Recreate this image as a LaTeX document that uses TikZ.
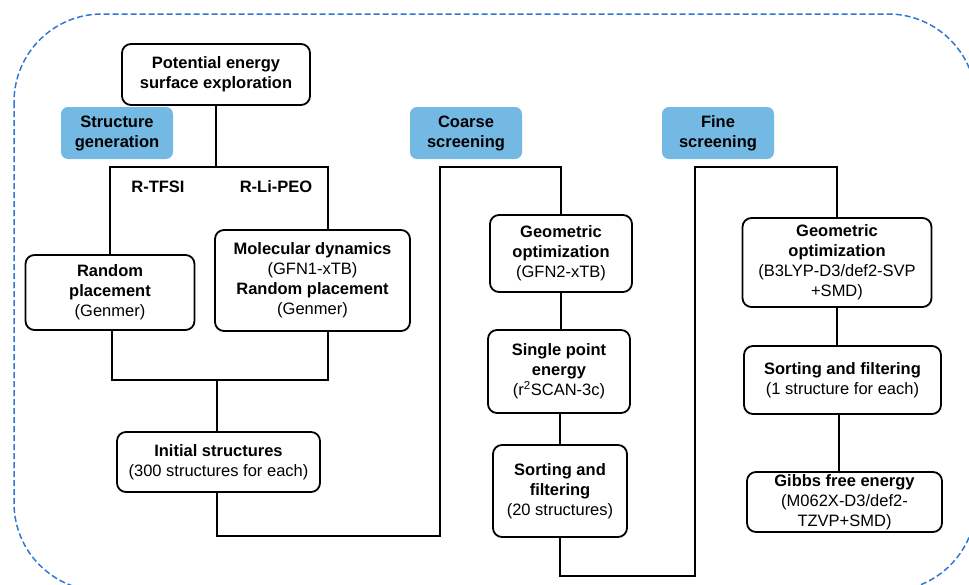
\documentclass[tikz,border=0pt]{standalone}
\usepackage{fontspec}
\setmainfont{Liberation Sans}
\definecolor{stageblue}{HTML}{74B9E3}
\definecolor{frameblue}{HTML}{2F78D2}
\newcommand{\hd}[1]{\textbf{#1}}

\begin{document}
\begin{tikzpicture}[x=1pt,y=-1pt,
  font=\fontsize{16.5}{20}\selectfont,
  stepbox/.style={draw=black,line width=1.8pt,rounded corners=9pt,fill=white,align=center,inner sep=0pt},
  stagebox/.style={fill=stageblue,rounded corners=7pt,align=center,font=\bfseries\fontsize{16.5}{20}\selectfont,minimum width=112pt,minimum height=52pt},
  link/.style={draw=black,line width=1.7pt}]

\useasboundingbox (0,0) rectangle (969,584);
\begin{scope}
\clip (0,0) rectangle (969,584);
\draw[frameblue,line width=1.5pt,rounded corners=88pt,dash pattern=on 6pt off 3pt] (14,14) rectangle (976,591);
\end{scope}

% stage labels
\node (sgen) [stagebox] at (117,133) {Structure\\generation};
\node (coarse) [stagebox] at (466,133) {Coarse\\screening};
\node (fine) [stagebox] at (718,133) {Fine\\screening};

% structure generation
\node (pes) [stepbox,minimum width=188pt,minimum height=61pt] at (216,74.5) {\hd{Potential energy}\\\hd{surface exploration}};
\node (rand) [stepbox,minimum width=169pt,minimum height=75pt] at (110,292.5) {\hd{Random}\\\hd{placement}\\(Genmer)};
\node (md) [stepbox,minimum width=195pt,minimum height=101pt] at (312.5,280.5) {\hd{Molecular dynamics}\\(GFN1-xTB)\\\hd{Random placement}\\(Genmer)};
\node (init) [stepbox,minimum width=203pt,minimum height=60pt] at (218.5,462) {\hd{Initial structures}\\(300 structures for each)};

\node (tfsi) at (158,187) {\hd{R-TFSI}};
\node (peo) at (276,187) {\hd{R-Li-PEO}};

% coarse screening
\node (geo1) [stepbox,minimum width=142pt,minimum height=77pt] at (561,253.5) {\hd{Geometric}\\\hd{optimization}\\(GFN2-xTB)};
\node (sp) [stepbox,minimum width=142pt,minimum height=83pt] at (559,371.5) {\hd{Single point}\\\hd{energy}\\(r\textsuperscript{2}SCAN-3c)};
\node (sort1) [stepbox,minimum width=134pt,minimum height=92pt] at (560,491) {\hd{Sorting and}\\\hd{filtering}\\(20 structures)};

% fine screening
\node (geo2) [stepbox,minimum width=189pt,minimum height=89pt] at (837,262.5) {\hd{Geometric}\\\hd{optimization}\\(B3LYP-D3/def2-SVP\\+SMD)};
\node (sort2) [stepbox,minimum width=197pt,minimum height=68pt] at (842.5,380) {\hd{Sorting and filtering}\\(1 structure for each)};
\node (gibbs) [stepbox,minimum width=195pt,minimum height=60pt] at (844.5,502) {\hd{Gibbs free energy}\\(M062X-D3/def2-\\TZVP+SMD)};

% junctions
\coordinate (split) at (216,167);
\coordinate (mdin) at (328,230);
\coordinate (mdout) at (328,331);
\coordinate (randout) at (112,330);
\coordinate (merge) at (217,380);
\coordinate (c1) at (440,536);
\coordinate (c2) at (695,576);
\coordinate (fine2) at (839,0);

\draw[link] (pes.south) -- (split);
\draw[link] (rand.north) |- (split) -| (mdin);
\draw[link] (randout) |- (merge) -| (mdout);
\draw[link] (merge) -- (init.north -| merge);
\draw[link] (init.south -| merge) |- (c1) |- (geo1.north |- split) -- (geo1.north);
\draw[link] (geo1.south) -- (sp.north -| geo1.south);
\draw[link] (sp.south -| sort1.north) -- (sort1.north);
\draw[link] (sort1.south) |- (c2) |- (geo2.north |- split) -- (geo2.north);
\draw[link] (geo2.south) -- (sort2.north -| geo2.south);
\draw[link] (sort2.south -| fine2) -- (gibbs.north -| fine2);

\end{tikzpicture}
\end{document}
